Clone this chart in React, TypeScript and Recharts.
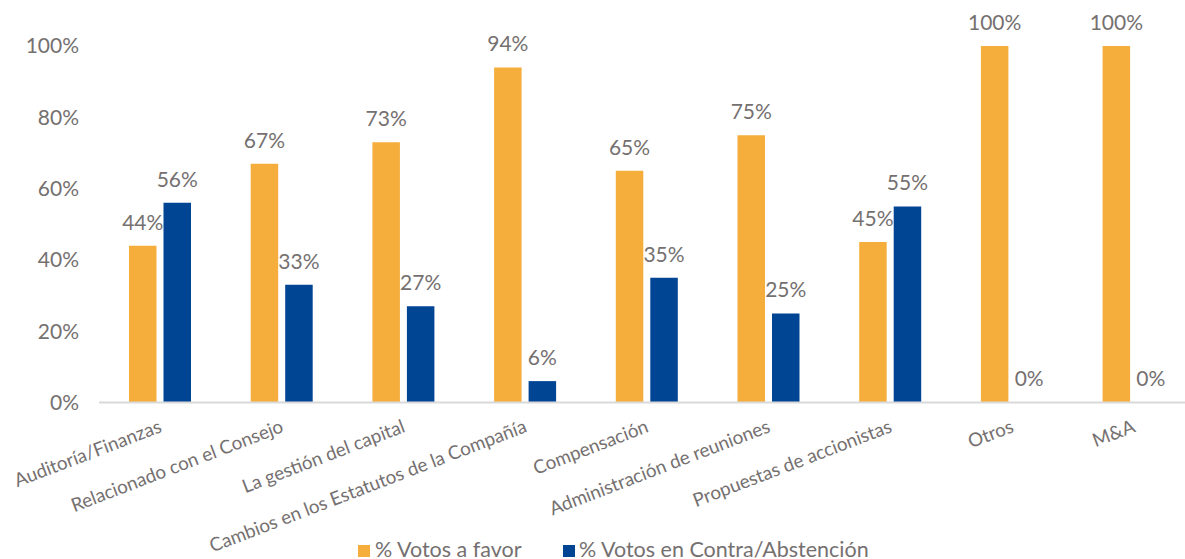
import React from 'react';
import { BarChart, Bar, XAxis, YAxis, LabelList, Legend } from 'recharts';

const categories = [
  'Auditoría/Finanzas',
  'Relacionado con el Consejo',
  'La gestión del capital',
  'Cambios en los Estatutos de la Compañía',
  'Compensación',
  'Administración de reuniones',
  'Propuestas de accionistas',
  'Otros',
  'M&A',
];
const favorValues = [44, 67, 73, 94, 65, 75, 45, 100, 100];
const contraValues = [56, 33, 27, 6, 35, 25, 55, 0, 0];
const yTicks = [0, 20, 40, 60, 80, 100];
const seriesNames = ['% Votos a favor', '% Votos en Contra/Abstención'];

const ORANGE = '#F5AE3C';
const BLUE = '#004494';
const TEXT = '#757070';
const FONT = 'Lato, sans-serif';

const data = categories.map((c, i) => ({ name: c, favor: favorValues[i], contra: contraValues[i] }));

const XTick = (props: any) => {
  const { x, y, payload } = props;
  return (
    <g transform={`translate(${x + 3},${y + 29})`}>
      <text
        textAnchor="end"
        transform="rotate(-21)"
        fill={TEXT}
        fontSize={18.8}
        fontFamily={FONT}
      >
        {payload.value}
      </text>
    </g>
  );
};

const makeLabel = () => (props: any) => {
  const { x, y, width, value } = props;
  return (
    <text
      x={Number(x) + Number(width) / 2}
      y={Number(y) - 16}
      textAnchor="middle"
      fill={TEXT}
      fontSize={21}
      fontFamily={FONT}
    >
      {`${value}%`}
    </text>
  );
};

const LegendContent = () => (
  <svg width={1185} height={559} style={{ position: 'absolute', left: 0, top: 0 }}>
    <rect x={358} y={545} width={12} height={12} fill={ORANGE} />
    <text x={375} y={557} fill={TEXT} fontSize={21.5} fontFamily={FONT}>
      {seriesNames[0]}
    </text>
    <rect x={563} y={545} width={12} height={12} fill={BLUE} />
    <text x={579} y={557} fill={TEXT} fontSize={21.5} fontFamily={FONT}>
      {seriesNames[1]}
    </text>
  </svg>
);

export default function App() {
  return (
    <div
      style={{
        position: 'absolute',
        left: 0,
        top: 0,
        width: 1185,
        height: 559,
        overflow: 'hidden',
        background: '#fff',
      }}
    >
      <BarChart
        width={1200}
        height={559}
        data={data}
        margin={{ top: 46, right: 5.7, left: 0, bottom: 0 }}
        barSize={27.5}
        barGap={7}
      >
        <XAxis
          dataKey="name"
          interval={0}
          height={156.5}
          tickLine={false}
          tickSize={0}
          tickMargin={0}
          axisLine={{ stroke: '#D9D9D9', strokeWidth: 2 }}
          tick={<XTick />}
        />
        <YAxis
          width={99}
          domain={[0, 100]}
          ticks={yTicks}
          tickFormatter={(v: number) => `${v}%`}
          axisLine={false}
          tickLine={false}
          tickSize={0}
          tickMargin={20}
          tick={{ fill: TEXT, fontSize: 21, fontFamily: FONT }}
        />
        <Legend
          layout="horizontal"
          verticalAlign="middle"
          align="center"
          wrapperStyle={{ position: 'absolute', left: 0, top: 0, width: 1185, height: 559, pointerEvents: 'none' }}
          content={<LegendContent />}
        />
        <Bar dataKey="favor" name={seriesNames[0]} fill={ORANGE} isAnimationActive={false}>
          <LabelList dataKey="favor" content={makeLabel()} />
        </Bar>
        <Bar dataKey="contra" name={seriesNames[1]} fill={BLUE} minPointSize={0.01} isAnimationActive={false}>
          <LabelList dataKey="contra" content={makeLabel()} />
        </Bar>
      </BarChart>
    </div>
  );
}
